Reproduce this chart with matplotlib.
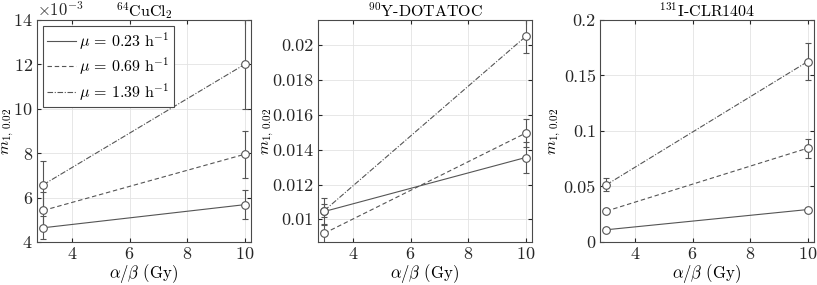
import numpy as np
import matplotlib
matplotlib.use("Agg")
import matplotlib.pyplot as plt
from matplotlib.lines import Line2D
from matplotlib.ticker import ScalarFormatter, FuncFormatter

plt.rcParams["font.family"] = ["cmr10", "DejaVu Serif"]
plt.rcParams["mathtext.fontset"] = "cm"
plt.rcParams["axes.unicode_minus"] = False
plt.rcParams["axes.formatter.use_mathtext"] = True
plt.rcParams["font.size"] = 11

# alpha/beta values (Gy)
ab = [3, 10]
mu_labels = [r"$\mu\, =\, 0.23\ \mathrm{h}^{-1}$",
             r"$\mu\, =\, 0.69\ \mathrm{h}^{-1}$",
             r"$\mu\, =\, 1.39\ \mathrm{h}^{-1}$"]

titles = [r"$^{64}$CuCl$_2$", r"$^{90}$Y-DOTATOC", r"$^{131}$I-CLR1404"]

# 64CuCl2
cu_m = [[4.64e-3, 5.68e-3], [5.42e-3, 7.95e-3], [6.58e-3, 12.0e-3]]
cu_err = [[0.51e-3, 0.65e-3], [0.84e-3, 1.05e-3], [1.07e-3, 2.0e-3]]

# 90Y-DOTATOC
y_m = [[0.01045, 0.01355], [0.0092, 0.01495], [0.0105, 0.0205]]
y_err = [[0.0008, 0.0009], [0.00055, 0.0008], [0.00037, 0.00095]]

# 131I-CLR1404
i_m = [[0.0110, 0.0292], [0.0278, 0.0845], [0.0515, 0.1625]]
i_err = [[0.0012, 0.0018], [0.0018, 0.0085], [0.0057, 0.0166]]

datasets = [(cu_m, cu_err), (y_m, y_err), (i_m, i_err)]
ylims = [(4e-3, 14e-3), (0.0087, 0.02145), (0.0, 0.2)]
yticks = [np.arange(4e-3, 14.1e-3, 2e-3), np.arange(0.01, 0.0201, 0.002),
          [0, 0.05, 0.1, 0.15, 0.2]]

styles = ["-", (0, (4, 2.5)), (0, (5, 1.5, 1, 1.5))]
col = "#555555"

fig = plt.figure(figsize=(8.17, 2.85), dpi=100)
lefts = [37 / 817, 318 / 817, 600 / 817]
axes = [fig.add_axes([l, 0.151, 214 / 817, 0.779]) for l in lefts]
ylabel_x = [-0.098, -0.195, -0.175]

for i, ax in enumerate(axes):
    m, e = datasets[i]
    for j in range(3):
        ax.errorbar(ab, m[j], yerr=e[j], color=col, linestyle=styles[j], lw=0.8,
                    marker="o", ms=5.5, mfc="white", mec=col, mew=0.8,
                    ecolor=col, elinewidth=0.8, capsize=2.5, capthick=0.8,
                    zorder=3)
    ax.set_xlim(2.78, 10.22)
    ax.set_ylim(*ylims[i])
    ax.set_xticks([4, 6, 8, 10])
    ax.set_yticks(yticks[i])
    ax.grid(True, color="#e3e3e3", lw=0.6)
    ax.set_axisbelow(True)
    ax.tick_params(direction="in", top=True, right=True, length=3,
                   colors="#262626", labelsize=13, pad=3)
    for s in ax.spines.values():
        s.set_color("#4a4a4a")
        s.set_linewidth(0.8)
    ax.set_xlabel(r"$\alpha/\beta$ (Gy)", fontsize=12, labelpad=0)
    ax.set_ylabel(r"$m_{1,\,0.02}$", fontsize=11.5)
    ax.yaxis.set_label_coords(ylabel_x[i], 0.5)
    ax.set_title(titles[i], fontsize=11.5, pad=2)

fmt = ScalarFormatter(useMathText=True)
fmt.set_powerlimits((-3, -3))
axes[0].yaxis.set_major_formatter(fmt)
axes[0].yaxis.get_offset_text().set_fontsize(12)
for ax in axes[1:]:
    ax.yaxis.set_major_formatter(FuncFormatter(lambda v, p: f"{v:g}"))

handles = [Line2D([], [], color=col, lw=0.8, linestyle=s) for s in styles]
leg = axes[0].legend(handles, mu_labels, loc="upper left", fontsize=11.5,
                     frameon=True, fancybox=False, edgecolor="#4a4a4a",
                     framealpha=1, handlelength=1.8, labelspacing=0.25,
                     borderaxespad=0.35, borderpad=0.3, handletextpad=0.2)
leg.get_frame().set_linewidth(0.8)

fig.savefig("out.png", dpi=100)
